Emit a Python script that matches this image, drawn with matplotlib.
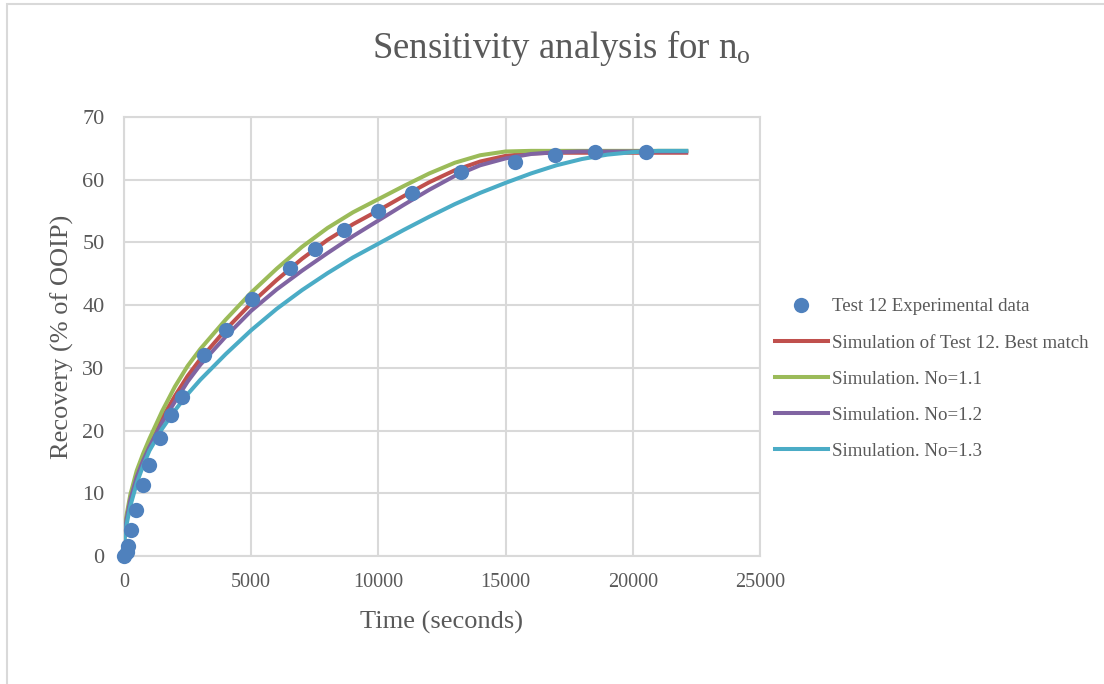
import matplotlib
matplotlib.use("Agg")
import matplotlib.pyplot as plt
from matplotlib.patches import Rectangle

plt.rcParams['font.family'] = ['Liberation Serif', 'DejaVu Serif']
plt.rcParams['mathtext.default'] = 'regular'

# Experimental data (Test 12)
exp_time = [0, 100, 170, 290, 465, 740, 985, 1415, 1848, 2262, 3150, 4010, 5025,
            6525, 7490, 8630, 10000, 11310, 13250, 15350, 16960, 18520, 20510]
exp_recovery = [0, 0.6, 1.6, 4.2, 7.3, 11.3, 14.5, 18.8, 22.5, 25.3, 32.0, 36.0, 41.0,
                46.0, 49.0, 52.0, 55.0, 57.9, 61.3, 62.9, 64.0, 64.4, 64.4]

# Simulation curves
sim_time = [0, 100, 250, 500, 750, 1000, 1500, 2000, 2500, 3000, 4000, 5000, 6000,
            7000, 8000, 9000, 10000, 11000, 12000, 13000, 14000, 15000, 16000, 17000,
            18000, 19000, 20000, 21000, 22100]
sim_best = [2.5, 6.0, 9.2, 12.9, 15.5, 17.8, 22.0, 25.5, 28.7, 31.4, 36.1, 40.3, 44.0,
            47.4, 50.4, 52.9, 55.1, 57.4, 59.6, 61.5, 62.9, 63.8, 64.2, 64.3,
            64.3, 64.3, 64.3, 64.3, 64.3]
sim_no11 = [2.5, 6.5, 9.8, 13.6, 16.3, 18.7, 23.1, 27.0, 30.3, 33.0, 37.7, 42.0, 45.8,
            49.3, 52.3, 54.8, 56.9, 59.0, 61.0, 62.7, 63.9, 64.5, 64.6, 64.6,
            64.6, 64.6, 64.6, 64.6, 64.6]
sim_no12 = [2.5, 5.8, 9.0, 12.6, 15.2, 17.4, 21.3, 24.6, 27.8, 30.5, 35.0, 39.1, 42.5,
            45.5, 48.3, 51.0, 53.5, 56.0, 58.4, 60.6, 62.3, 63.4, 64.1, 64.4,
            64.5, 64.5, 64.5, 64.5, 64.5]
sim_no13 = [2.0, 5.0, 8.0, 11.6, 14.4, 16.8, 20.3, 23.2, 25.8, 28.1, 32.2, 36.0, 39.4,
            42.4, 45.1, 47.6, 49.8, 52.0, 54.1, 56.1, 57.9, 59.5, 61.0, 62.3,
            63.3, 64.0, 64.4, 64.6, 64.6]

x_ticks = [0, 5000, 10000, 15000, 20000, 25000]
y_ticks = [0, 10, 20, 30, 40, 50, 60, 70]

text_color = '#595959'
grid_color = '#d9d9d9'

fig = plt.figure(figsize=(11.04, 6.84), dpi=100)
ax = fig.add_axes([124/1104, 1-556/684, (760-124)/1104, (556-117)/684])

lw = 2.9
ax.plot(sim_time, sim_best, color='#C0504D', lw=lw, label='Simulation of Test 12. Best match', zorder=3)
ax.plot(sim_time, sim_no11, color='#9BBB59', lw=lw, label='Simulation. No=1.1', zorder=3)
ax.plot(sim_time, sim_no12, color='#8064A2', lw=lw, label='Simulation. No=1.2', zorder=3)
ax.plot(sim_time, sim_no13, color='#4BACC6', lw=lw, label='Simulation. No=1.3', zorder=3)
ax.plot(exp_time, exp_recovery, 'o', color='#4F81BD', markersize=11, markeredgewidth=0,
        label='Test 12 Experimental data', zorder=4, clip_on=False)

ax.set_xlim(0, 25000)
ax.set_ylim(0, 70)
ax.set_xticks(x_ticks)
ax.set_yticks(y_ticks)
ax.grid(True, color=grid_color, lw=1.5, zorder=0)
ax.set_axisbelow(True)
for s in ax.spines.values():
    s.set_color(grid_color)
    s.set_linewidth(1.5)
ax.tick_params(length=0, labelsize=14.5, labelcolor=text_color)
ax.tick_params(axis='y', labelsize=16, pad=14)
ax.tick_params(axis='x', pad=12)

ax.set_xlabel('Time (seconds)', fontsize=19, color=text_color, labelpad=14)
ax.set_ylabel('Recovery (% of OOIP)', fontsize=19, color=text_color, labelpad=6)

fig.text(561/1104, 1-48/684, r'Sensitivity analysis for n$_{o}$', fontsize=26.5,
         color=text_color, ha='center', va='center')

handles, labels = ax.get_legend_handles_labels()
order = [4, 0, 1, 2, 3]
leg = fig.legend([handles[i] for i in order], [labels[i] for i in order],
                 loc='center left', bbox_to_anchor=(775/1104, 1-379/684),
                 frameon=False, fontsize=13.6, handlelength=2.8, handletextpad=0.22,
                 labelspacing=1.0, borderpad=0, borderaxespad=0)
for t in leg.get_texts():
    t.set_color(text_color)

fig.patches.append(Rectangle((7/1104, -0.2), 1.5, 1.2 - 4/684, transform=fig.transFigure,
                             fill=False, edgecolor=grid_color, lw=1.5))

fig.savefig('out.png', dpi=100)
